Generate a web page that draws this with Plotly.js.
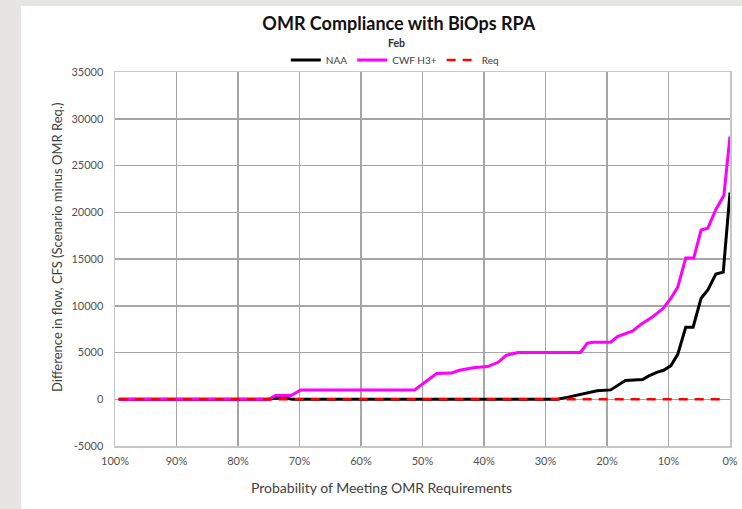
<!DOCTYPE html>
<html>
<head>
<meta charset="utf-8">
<script src="https://cdn.plot.ly/plotly-3.0.1.min.js"></script>
<style>
  html, body { margin: 0; padding: 0; background: #e6e5e1; width: 742px; height: 509px; overflow: hidden; }
  #chart { position: absolute; left: 21px; top: 6px; width: 721px; height: 503px; background: #ffffff; }
</style>
</head>
<body>
<div id="chart"></div>
<script>
// Probability of meeting OMR requirements (%) and flow difference (cfs)
const naaX = [99.4, 75.0, 73.8, 72.2, 71.2, 28.1, 26.5, 24.3, 21.6, 19.4, 18.1, 17.0, 14.2, 13.2, 11.8, 10.8, 9.6, 8.5, 7.2, 6.0, 4.7, 3.6, 2.3, 1.1, 0.0];
const naaY = [0, 0, 120, 120, 0, 0, 200, 500, 900, 1000, 1500, 2000, 2100, 2500, 2900, 3100, 3600, 4800, 7700, 7700, 10800, 11700, 13400, 13600, 22100];

const cwfX = [99.4, 75.0, 73.9, 71.4, 69.8, 51.3, 47.7, 45.3, 44.0, 41.5, 39.4, 37.7, 36.4, 34.5, 24.3, 23.2, 22.2, 19.4, 18.3, 15.8, 14.5, 12.4, 10.9, 9.6, 8.5, 7.2, 5.9, 4.7, 3.6, 2.3, 1.0, 0.0];
const cwfY = [0, 0, 400, 400, 1000, 1000, 2750, 2800, 3100, 3400, 3500, 3950, 4700, 5000, 5000, 6000, 6100, 6100, 6700, 7300, 8000, 8900, 9700, 10800, 12000, 15100, 15100, 18100, 18300, 20300, 21800, 28100];

const reqX = [99.4, 1.0];
const reqY = [0, 0];

const seriesNames = ["NAA", "CWF H3+", "Req"];
const xTickVals = [100, 90, 80, 70, 60, 50, 40, 30, 20, 10, 0];
const xTickText = ["100%", "90%", "80%", "70%", "60%", "50%", "40%", "30%", "20%", "10%", "0%"];
const yTickVals = [-5000, 0, 5000, 10000, 15000, 20000, 25000, 30000, 35000];
const yTickText = ["-5000", "0", "5000", "10000", "15000", "20000", "25000", "30000", "35000"];

const FONT = "Lato, 'Open Sans', sans-serif";

const traces = [
  { x: naaX, y: naaY, name: seriesNames[0], type: "scatter", mode: "lines",
    line: { color: "#000000", width: 3 } },
  { x: cwfX, y: cwfY, name: seriesNames[1], type: "scatter", mode: "lines",
    line: { color: "#ff00ff", width: 3 } },
  { x: reqX, y: reqY, name: seriesNames[2], type: "scatter", mode: "lines",
    line: { color: "#ff0000", width: 2.5, dash: "9px,7px" } }
];

const layout = {
  width: 721, height: 503,
  margin: { l: 94, r: 12, t: 66, b: 63 },
  paper_bgcolor: "#ffffff",
  plot_bgcolor: "#ffffff",
  font: { family: FONT, color: "#595959", size: 11 },
  title: { text: "<b>OMR Compliance with BiOps RPA</b>", x: 0.524, xanchor: "center", y: 0.964, yanchor: "middle",
           font: { family: FONT, size: 18, color: "#111111" } },
  showlegend: true,
  legend: { orientation: "h", x: 0.455, xanchor: "center", y: 1.032, yanchor: "middle",
            font: { family: FONT, size: 10, color: "#404040" }, bgcolor: "rgba(0,0,0,0)",
            itemwidth: 30, tracegroupgap: 0 },
  xaxis: {
    range: [100, 0], tickmode: "array", tickvals: xTickVals, ticktext: xTickText,
    showgrid: true, gridcolor: "#a6a6a6", gridwidth: 1.5,
    showline: true, linecolor: "#c6c6c6", linewidth: 1.5, mirror: true,
    zeroline: false, ticks: "outside", ticklen: 4, tickcolor: "rgba(0,0,0,0)",
    tickfont: { family: FONT, size: 11, color: "#505050" }
  },
  yaxis: {
    range: [-5000, 35000], tickmode: "array", tickvals: yTickVals, ticktext: yTickText,
    showgrid: true, gridcolor: "#a6a6a6", gridwidth: 1.5,
    showline: true, linecolor: "#c6c6c6", linewidth: 1.5, mirror: true,
    zeroline: false, ticks: "outside", ticklen: 8, tickcolor: "rgba(0,0,0,0)",
    tickfont: { family: FONT, size: 11, color: "#505050" }
  },
  annotations: [
    { text: "<b>Feb</b>", xref: "paper", yref: "paper", x: 0.458, y: 1.078, xanchor: "center", yanchor: "middle",
      showarrow: false, font: { family: FONT, size: 10.5, color: "#303030" } },
    { text: "Probability of Meeting OMR Requirements", xref: "paper", yref: "paper",
      x: 0.434, y: -0.11, xanchor: "center", yanchor: "middle", showarrow: false,
      font: { family: FONT, size: 14, color: "#404040" } },
    { text: "Difference in flow, CFS (Scenario minus OMR Req.)", xref: "paper", yref: "paper",
      x: -0.094, xanchor: "center", y: 0.53, yanchor: "middle", textangle: -90, showarrow: false,
      font: { family: FONT, size: 13, color: "#404040" } }
  ]
};

Plotly.newPlot("chart", traces, layout, { displayModeBar: false, staticPlot: true });
</script>
</body>
</html>
